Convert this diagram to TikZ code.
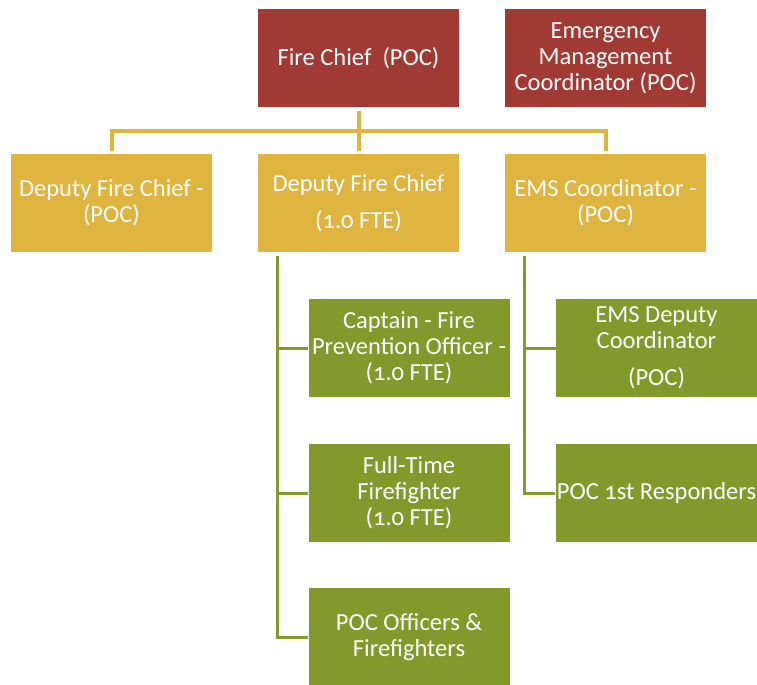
\documentclass[tikz,border=0pt]{standalone}
\usepackage{fontspec}
\setmainfont{Carlito}[Numbers=OldStyle]
\definecolor{chiefred}{HTML}{A03A33}
\definecolor{deputygold}{HTML}{DFB43F}
\definecolor{staffgreen}{HTML}{84992C}
\tikzset{
  unit/.style={rectangle, minimum width=150.75pt, minimum height=73.5pt,
    inner sep=1pt, text=white, align=center,
    font=\fontsize{18.4}{19.5}\selectfont},
  chief/.style={unit, fill=chiefred},
  deputy/.style={unit, fill=deputygold},
  staff/.style={unit, fill=staffgreen},
  yline/.style={draw=deputygold, line width=3pt},
  gline/.style={draw=staffgreen, line width=2.25pt}
}
\begin{document}
\begin{tikzpicture}[x=0.75pt, y=-0.75pt]
\useasboundingbox (0,0) rectangle (757,685);
% top level
\node[chief] (fc) at (358.5,58.5) {Fire Chief\ \ (POC)};
\node[chief] (emc) at (605.5,58.5) {Emergency\\Management\\Coordinator (POC)};
% deputies
\node[deputy] (d1) at (111.5,203) {Deputy Fire Chief -\\(POC)};
\node[deputy] (d2) at (358.5,203) {Deputy Fire Chief\\[8pt](1.0 FTE)};
\node[deputy] (d3) at (605.5,203) {EMS Coordinator -\\(POC)};
% fire staff
\node[staff] (c1) at (409,348) {Captain - Fire\\Prevention Officer -\\(1.0 FTE)};
\node[staff] (c2) at (409,493) {Full-Time\\Firefighter\\(1.0 FTE)};
\node[staff] (c3) at (409,637) {POC Officers \&\\Firefighters};
% EMS staff
\node[staff] (e1) at (656.5,348) {EMS Deputy\\Coordinator\\[8pt](POC)};
\node[staff] (e2) at (656.5,493) {POC 1st Responders};
% connectors
\coordinate (bus) at (0,131);
\coordinate (ftrunk) at (277,256);
\coordinate (etrunk) at (524,256);
\draw[yline] (fc.south) ++(0,3) -- ([yshift=2.25pt]d2.north);
\draw[yline] ([yshift=2.25pt]d1.north) -- (d1.north |- bus) -- (d3.north |- bus) -- ([yshift=2.25pt]d3.north);
\draw[gline] (ftrunk) |- (c1.west);
\draw[gline] (ftrunk) |- (c2.west);
\draw[gline] (ftrunk) |- (c3.west);
\draw[gline] (etrunk) |- (e1.west);
\draw[gline] (etrunk) |- (e2.west);
\end{tikzpicture}
\end{document}
